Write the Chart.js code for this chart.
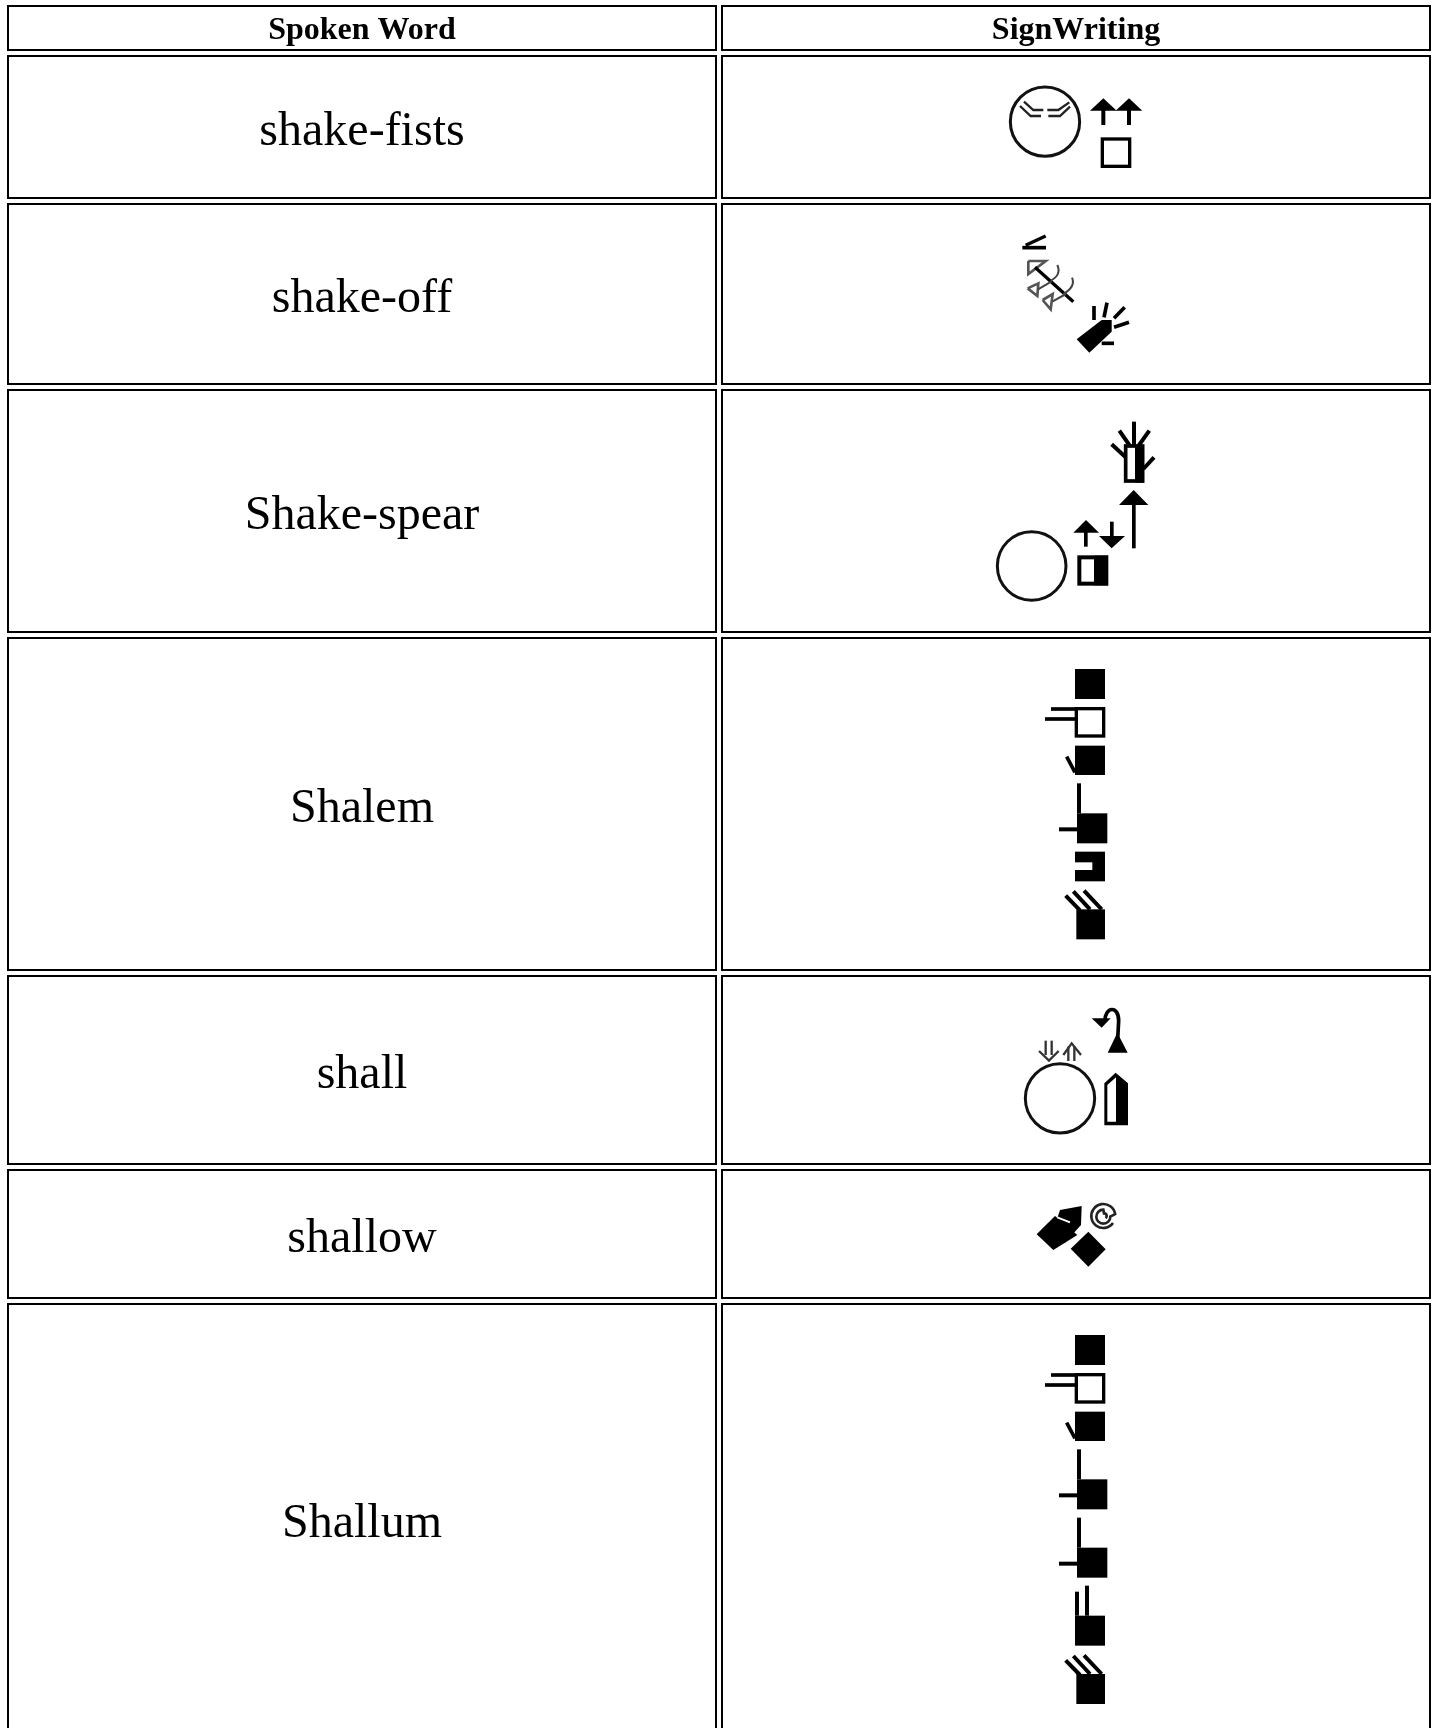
<!DOCTYPE html>
<html>
<head>
<meta charset="utf-8">
<style>html,body{margin:0;padding:0;background:#fff}canvas{display:block}</style>
<script src="https://cdn.jsdelivr.net/npm/chart.js@4"></script>
</head>
<body>
<canvas id="c" width="1435" height="1728"></canvas>
<script>
const headers = ['Spoken Word', 'SignWriting'];
const spokenWords = ['shake-fists', 'shake-off', 'Shake-spear', 'Shalem', 'shall', 'shallow', 'Shallum'];
const columnEdges = [[8, 716], [722, 1430]];
const rowTops = [6, 56, 204, 390, 638, 976, 1170, 1304];
const rowBottoms = [50, 198, 384, 632, 970, 1164, 1298, 1734];
const headerFontPx = 32, wordFontPx = 48;

/* ---- symbol drawing: each sign is a small canvas used as a point style ---- */
function kit(g, ox, oy) {
  g.setTransform(1, 0, 0, 1, 0, 0);
  g.translate(g._tx + ox, g._ty + oy);
  g.scale(1 / 3, 1 / 3);
  g.lineCap = 'butt'; g.lineJoin = 'miter';
  const k = {
    line(p, w, c) { g.strokeStyle = c || '#000'; g.lineWidth = w + 3; g.beginPath(); p.forEach((q, i) => i ? g.lineTo(q[0], q[1]) : g.moveTo(q[0], q[1])); g.stroke(); },
    poly(p, c) { g.fillStyle = c || '#000'; g.beginPath(); p.forEach((q, i) => i ? g.lineTo(q[0], q[1]) : g.moveTo(q[0], q[1])); g.closePath(); g.fill(); },
    box(x0, y0, x1, y1, c) { g.fillStyle = c || '#000'; g.fillRect(x0, y0, x1 - x0, y1 - y0); },
    frame(x0, y0, x1, y1, w) { g.strokeStyle = '#000'; g.lineWidth = w + 2; g.strokeRect(x0, y0, x1 - x0, y1 - y0); },
    ring(x, y, r, w) { g.strokeStyle = '#111'; g.lineWidth = w + 2; g.beginPath(); g.arc(x, y, r, 0, Math.PI * 2); g.stroke(); },
    curve(a, b, c, w, col) { g.strokeStyle = col || '#000'; g.lineWidth = w + 2; g.beginPath(); g.moveTo(a[0], a[1]); g.quadraticCurveTo(b[0], b[1], c[0], c[1]); g.stroke(); },
    g
  };
  return k;
}
function fist(k, y) { k.box(225, y, 315, y + 90); }
function tallThumbFist(k, y) {
  k.box(231, y, 322, y + 90);
  k.line([[237, y - 90], [237, y]], 9);
  k.line([[177, y + 48], [231, y + 48]], 9);
}
function hooded(k, y) {
  k.box(229, y, 315, y + 90);
  k.line([[197, y - 41], [240, y + 3]], 9);
  k.line([[220, y - 54], [270, y]], 9);
  k.line([[252, y - 56], [305, y]], 9);
}
function openHand(k, y) {
  k.frame(229, y, 311, y + 82, 8);
  k.line([[153, y + 1], [229, y + 1]], 8);
  k.line([[135, y + 31], [229, y + 31]], 8);
}
function thumbFist(k, y) {
  k.box(225, y, 315, y + 88);
  k.line([[200, y + 33], [225, y + 80]], 8);
}

const glyphs = [
  g => {
    const k = kit(g, 960, 70);
    k.ring(255, 155, 104, 7);
    k.line([[192, 95], [220, 120], [250, 120]], 4, '#222');
    k.line([[262, 120], [295, 120], [328, 97]], 4, '#222');
    k.line([[180, 108], [212, 138], [243, 138]], 4, '#222');
    k.line([[265, 138], [300, 138], [330, 110]], 4, '#222');
    [430, 507].forEach(x => { k.poly([[x, 85], [x + 40, 122], [x - 40, 122]]); k.box(x - 6, 120, x + 6, 165); });
    k.frame(427, 207, 509, 289, 8);
  },
  g => {
    const k = kit(g, 960, 70);
    k.line([[257, 498], [197, 526]], 7);
    k.line([[187, 533], [258, 533]], 8);
    k.line([[205, 573], [257, 573], [205, 612], [205, 573]], 5, '#555');
    k.line([[225, 592], [340, 695]], 7);
    k.curve([292, 585], [305, 615], [272, 632], 4, '#444');
    k.curve([336, 623], [348, 650], [310, 672], 4, '#444');
    k.line([[203, 655], [235, 640], [232, 678], [203, 655]], 5, '#555');
    k.line([[248, 690], [278, 672], [272, 718], [248, 690]], 5, '#555');
    k.line([[234, 658], [275, 634]], 3, '#444');
    k.line([[278, 694], [318, 672]], 3, '#444');
    k.poly([[350, 808], [425, 750], [455, 750], [455, 785], [388, 848]]);
    k.line([[402, 708], [402, 750]], 8);
    k.line([[441, 698], [432, 742]], 8);
    k.line([[494, 712], [462, 745]], 8);
    k.line([[507, 757], [462, 772]], 8);
    k.line([[462, 820], [425, 820]], 8);
  },
  g => {
    const k = kit(g, 960, 400);
    k.line([[522, 65], [522, 138]], 9);
    k.line([[478, 92], [510, 138]], 9);
    k.line([[568, 92], [535, 138]], 9);
    k.line([[455, 133], [497, 172]], 9);
    k.line([[582, 172], [550, 207]], 9);
    k.frame(497, 138, 548, 243, 9);
    k.box(525, 135, 552, 248);
    k.poly([[521, 270], [565, 315], [477, 315]]);
    k.box(516, 313, 527, 445);
    k.poly([[378, 360], [417, 398], [340, 398]]);
    k.box(372, 396, 383, 440);
    k.poly([[455, 445], [495, 408], [417, 408]]);
    k.box(450, 365, 461, 410);
    k.frame(358, 472, 439, 551, 10);
    k.box(402, 467, 444, 556);
    k.ring(215, 498, 103, 7);
  },
  g => {
    const k = kit(g, 1000, 650);
    fist(k, 57);
    openHand(k, 176);
    thumbFist(k, 287);
    tallThumbFist(k, 490);
    k.box(225, 605, 315, 694);
    k.box(225, 637, 277, 660, '#fff');
    hooded(k, 778);
  },
  g => {
    const k = kit(g, 1000, 990);
    k.poly([[275, 85], [332, 85], [305, 113]]);
    k.g.strokeStyle = '#000'; k.g.lineWidth = 11; k.g.beginPath();
    k.g.moveTo(315, 92); k.g.bezierCurveTo(315, 50, 356, 45, 356, 92); k.g.lineTo(353, 150); k.g.stroke();
    k.poly([[352, 128], [383, 188], [323, 188]]);
    k.line([[137, 152], [137, 195]], 4, '#333');
    k.line([[155, 152], [155, 195]], 4, '#333');
    k.line([[117, 183], [147, 212], [176, 183]], 4, '#333');
    k.line([[205, 170], [205, 213]], 4, '#333');
    k.line([[223, 170], [223, 213]], 4, '#333');
    k.line([[190, 195], [215, 160], [243, 195]], 4, '#333');
    k.ring(180, 325, 104, 7);
    k.poly([[313, 406], [313, 280], [347, 248], [384, 280], [384, 406]]);
    k.poly([[322, 395], [322, 285], [348, 262], [348, 395]], '#fff');
  },
  g => {
    const k = kit(g, 1000, 990);
    k.poly([[110, 733], [165, 678], [232, 735], [160, 780]]);
    k.poly([[180, 660], [245, 648], [243, 705], [195, 758], [160, 720]]);
    k.line([[172, 682], [210, 697]], 3, '#fff');
    k.poly([[212, 776], [265, 725], [317, 778], [265, 830]]);
    k.g.strokeStyle = '#222'; k.g.lineWidth = 8; k.g.beginPath();
    k.g.arc(310, 678, 36, Math.PI * 0.2, Math.PI * 1.95, false);
    k.g.arc(310, 680, 21, 0, Math.PI * 1.5, false);
    k.g.arc(312, 678, 8, Math.PI * 1.5, Math.PI * 2.3, false);
    k.g.stroke();
  },
  g => {
    const k = kit(g, 1000, 1310);
    fist(k, 75);
    openHand(k, 194);
    thumbFist(k, 305);
    tallThumbFist(k, 508);
    tallThumbFist(k, 713);
    k.box(225, 917, 315, 1007);
    k.line([[231, 845], [231, 917]], 9);
    k.line([[261, 827], [261, 917]], 9);
    hooded(k, 1092);
  }
];

function glyphImage(i) {
  const row = i + 1;
  const cv = document.createElement('canvas');
  cv.width = columnEdges[1][1] - columnEdges[1][0];
  cv.height = rowBottoms[row] - rowTops[row];
  const g = cv.getContext('2d');
  g.filter = 'blur(0.5px)';
  g._tx = -columnEdges[1][0];
  g._ty = -rowTops[row];
  glyphs[i](g);
  return cv;
}

/* ---- table cells as closed line datasets ---- */
const cellDatasets = [];
rowTops.forEach((t, r) => columnEdges.forEach(([l, e]) => {
  const b = rowBottoms[r];
  cellDatasets.push({
    type: 'scatter', showLine: true, borderColor: '#000', borderWidth: 2, pointRadius: 0,
    borderCapStyle: 'square', borderJoinStyle: 'miter', tension: 0, fill: false,
    data: [{x: l, y: t}, {x: e, y: t}, {x: e, y: b}, {x: l, y: b}, {x: l, y: t}]
  });
}));

const center = a => (a[0] + a[1]) / 2;
const signDataset = {
  type: 'scatter', showLine: false, clip: false,
  pointStyle: spokenWords.map((_, i) => glyphImage(i)),
  pointRadius: 10, borderWidth: 0,
  data: spokenWords.map((_, i) => ({x: center(columnEdges[1]), y: (rowTops[i + 1] + rowBottoms[i + 1]) / 2}))
};

const tableText = {
  id: 'tableText',
  afterDatasetsDraw(chart) {
    const {ctx, scales: {x, y}} = chart;
    ctx.save();
    ctx.fillStyle = '#000';
    ctx.textAlign = 'center';
    ctx.textBaseline = 'alphabetic';
    ctx.font = 'bold ' + headerFontPx + 'px "Liberation Serif"';
    headers.forEach((h, i) => ctx.fillText(h, x.getPixelForValue(center(columnEdges[i])), y.getPixelForValue((rowTops[0] + rowBottoms[0]) / 2 + 11)));
    ctx.font = wordFontPx + 'px "Liberation Serif"';
    spokenWords.forEach((w, i) => ctx.fillText(w, x.getPixelForValue(center(columnEdges[0])), y.getPixelForValue((rowTops[i + 1] + rowBottoms[i + 1]) / 2 + 18)));
    ctx.restore();
  }
};

new Chart(document.getElementById('c'), {
  type: 'scatter',
  data: {datasets: [...cellDatasets, signDataset]},
  plugins: [tableText],
  options: {
    responsive: false, animation: false, events: [],
    layout: {padding: 0, autoPadding: false},
    plugins: {legend: {display: false}, tooltip: {enabled: false}, title: {display: false}},
    scales: {
      x: {type: 'linear', min: 0, max: 1435, display: false},
      y: {type: 'linear', min: 0, max: 1728, reverse: true, display: false}
    }
  }
});
</script>
</body>
</html>
